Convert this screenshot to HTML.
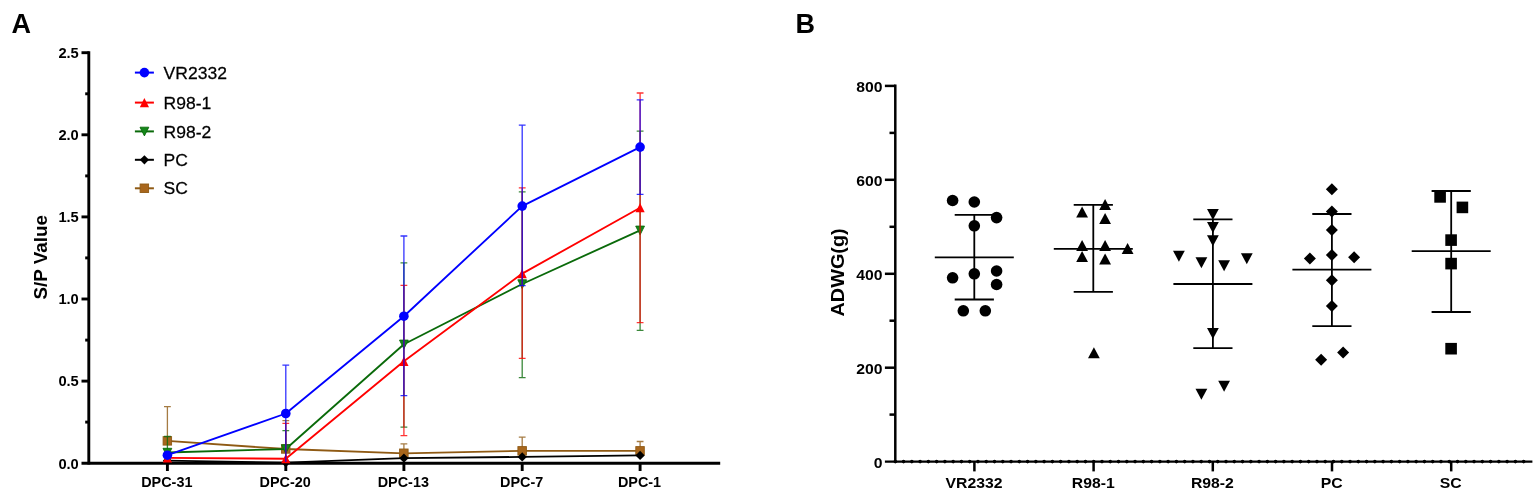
<!DOCTYPE html>
<html lang="en"><head><meta charset="utf-8"><title>Figure</title>
<style>html,body{margin:0;padding:0;background:#fff;}svg{display:block;}text{font-family:"Liberation Sans", sans-serif;fill:#000;}</style>
</head><body>
<svg width="1535" height="491" viewBox="0 0 1535 491">
<rect width="1535" height="491" fill="#fff"/>
<g id="panelA">
<text x="11.4" y="33" font-size="27" font-weight="bold">A</text>
<g stroke="#000" stroke-width="2.9" fill="none" stroke-linecap="butt">
<path d="M88.8 51.2 V464.6"/>
<path d="M81.5 463.2 H720.2" stroke-width="2.9"/>
<path d="M81.5 381.1 H88.8"/>
<path d="M81.5 299.0 H88.8"/>
<path d="M81.5 216.9 H88.8"/>
<path d="M81.5 134.8 H88.8"/>
<path d="M81.5 52.7 H88.8"/>
<path d="M85.2 422.1 H88.8"/>
<path d="M85.2 340.1 H88.8"/>
<path d="M85.2 257.9 H88.8"/>
<path d="M85.2 175.9 H88.8"/>
<path d="M85.2 93.8 H88.8"/>
<path d="M167.4 463.2 V471"/>
<path d="M285.8 463.2 V471"/>
<path d="M403.9 463.2 V471"/>
<path d="M522.2 463.2 V471"/>
<path d="M640.1 463.2 V471"/>
</g>
<text x="78.8" y="468.5" font-size="14.7" font-weight="bold" text-anchor="end">0.0</text>
<text x="78.8" y="386.4" font-size="14.7" font-weight="bold" text-anchor="end">0.5</text>
<text x="78.8" y="304.3" font-size="14.7" font-weight="bold" text-anchor="end">1.0</text>
<text x="78.8" y="222.2" font-size="14.7" font-weight="bold" text-anchor="end">1.5</text>
<text x="78.8" y="140.1" font-size="14.7" font-weight="bold" text-anchor="end">2.0</text>
<text x="78.8" y="58.0" font-size="14.7" font-weight="bold" text-anchor="end">2.5</text>
<text x="166.8" y="486.9" font-size="14.4" font-weight="bold" text-anchor="middle">DPC-31</text>
<text x="285.2" y="486.9" font-size="14.4" font-weight="bold" text-anchor="middle">DPC-20</text>
<text x="403.3" y="486.9" font-size="14.4" font-weight="bold" text-anchor="middle">DPC-13</text>
<text x="521.6" y="486.9" font-size="14.4" font-weight="bold" text-anchor="middle">DPC-7</text>
<text x="639.5" y="486.9" font-size="14.4" font-weight="bold" text-anchor="middle">DPC-1</text>
<text transform="translate(47 257.3) rotate(-90)" font-size="18.7" font-weight="bold" text-anchor="middle" textLength="84.5" lengthAdjust="spacingAndGlyphs">S/P Value</text>
<g id="s-SC">
<path d="M167.4 440.9 V406.6 M164.0 406.6 H170.8 M285.8 449.0 V420.6 M282.4 420.6 H289.2 M403.9 453.3 V443.9 M400.5 443.9 H407.3 M522.2 450.9 V437.2 M518.8 437.2 H525.6 M640.1 450.9 V441.5 M636.7 441.5 H643.5" stroke="#8f5a14" stroke-width="1.3" fill="none" opacity="0.8"/>
<polyline points="167.4,440.9 285.8,449.0 403.9,453.3 522.2,450.9 640.1,450.9" stroke="#8f5a14" stroke-width="1.85" fill="none" stroke-linejoin="round"/>
<rect x="163.1" y="436.6" width="8.5" height="8.5" fill="#a8661c" stroke="#8f5a14" stroke-width="0.9"/>
<rect x="281.5" y="444.7" width="8.5" height="8.5" fill="#a8661c" stroke="#8f5a14" stroke-width="0.9"/>
<rect x="399.6" y="449.0" width="8.5" height="8.5" fill="#a8661c" stroke="#8f5a14" stroke-width="0.9"/>
<rect x="517.9" y="446.6" width="8.5" height="8.5" fill="#a8661c" stroke="#8f5a14" stroke-width="0.9"/>
<rect x="635.8" y="446.6" width="8.5" height="8.5" fill="#a8661c" stroke="#8f5a14" stroke-width="0.9"/>
</g>
<g id="s-PC">
<polyline points="167.4,460.7 285.8,462.6 403.9,458.2 522.2,456.9 640.1,455.4" stroke="#000" stroke-width="1.85" fill="none" stroke-linejoin="round"/>
<path d="M167.4 456.1 L172.0 460.7 L167.4 465.3 L162.8 460.7 Z" fill="#000"/>
<path d="M285.8 458.0 L290.4 462.6 L285.8 467.2 L281.2 462.6 Z" fill="#000"/>
<path d="M403.9 453.6 L408.5 458.2 L403.9 462.8 L399.3 458.2 Z" fill="#000"/>
<path d="M522.2 452.3 L526.8 456.9 L522.2 461.5 L517.6 456.9 Z" fill="#000"/>
<path d="M640.1 450.8 L644.7 455.4 L640.1 460.0 L635.5 455.4 Z" fill="#000"/>
</g>
<g id="s-R98-2">
<path d="M167.4 452.5 V436.5 M164.0 436.5 H170.8 M285.8 449.0 V430.7 M282.4 430.7 H289.2 M285.8 449.0 V462.0 M403.9 344.3 V262.9 M400.5 262.9 H407.3 M403.9 344.3 V427.1 M400.5 427.1 H407.3 M522.2 284.0 V191.8 M518.8 191.8 H525.6 M522.2 284.0 V377.7 M518.8 377.7 H525.6 M640.1 230.3 V131.2 M636.7 131.2 H643.5 M640.1 230.3 V330.3 M636.7 330.3 H643.5" stroke="#0a6a0a" stroke-width="1.3" fill="none" opacity="0.8"/>
<polyline points="167.4,452.5 285.8,449.0 403.9,344.3 522.2,284.0 640.1,230.3" stroke="#0a6a0a" stroke-width="1.85" fill="none" stroke-linejoin="round"/>
<path d="M167.4 457.0 L171.8 448.3 L163.0 448.3 Z" fill="#14871a" stroke="#0a6a0a" stroke-width="0.9"/>
<path d="M285.8 453.5 L290.2 444.8 L281.4 444.8 Z" fill="#14871a" stroke="#0a6a0a" stroke-width="0.9"/>
<path d="M403.9 348.8 L408.3 340.1 L399.5 340.1 Z" fill="#14871a" stroke="#0a6a0a" stroke-width="0.9"/>
<path d="M522.2 288.5 L526.6 279.8 L517.8 279.8 Z" fill="#14871a" stroke="#0a6a0a" stroke-width="0.9"/>
<path d="M640.1 234.8 L644.5 226.1 L635.7 226.1 Z" fill="#14871a" stroke="#0a6a0a" stroke-width="0.9"/>
</g>
<g id="s-R98-1">
<path d="M285.8 458.7 V423.3 M282.4 423.3 H289.2 M285.8 458.7 V462.0 M403.9 361.3 V285.4 M400.5 285.4 H407.3 M403.9 361.3 V435.7 M400.5 435.7 H407.3 M522.2 273.6 V187.8 M518.8 187.8 H525.6 M522.2 273.6 V358.3 M518.8 358.3 H525.6 M640.1 207.7 V93.0 M636.7 93.0 H643.5 M640.1 207.7 V322.6 M636.7 322.6 H643.5" stroke="#ff0000" stroke-width="1.3" fill="none" opacity="0.8"/>
<polyline points="167.4,457.9 285.8,458.7 403.9,361.3 522.2,273.6 640.1,207.7" stroke="#ff0000" stroke-width="1.85" fill="none" stroke-linejoin="round"/>
<path d="M167.4 453.2 L172.0 462.5 L162.8 462.5 Z" fill="#ff0000"/>
<path d="M285.8 454.0 L290.4 463.3 L281.2 463.3 Z" fill="#ff0000"/>
<path d="M403.9 356.6 L408.5 365.9 L399.3 365.9 Z" fill="#ff0000"/>
<path d="M522.2 268.9 L526.8 278.2 L517.6 278.2 Z" fill="#ff0000"/>
<path d="M640.1 203.0 L644.7 212.3 L635.5 212.3 Z" fill="#ff0000"/>
</g>
<g id="s-VR2332">
<path d="M285.8 413.5 V365.2 M282.4 365.2 H289.2 M285.8 413.5 V462.0 M403.9 316.2 V236.0 M400.5 236.0 H407.3 M403.9 316.2 V395.7 M400.5 395.7 H407.3 M522.2 206.1 V125.1 M518.8 125.1 H525.6 M522.2 206.1 V285.6 M518.8 285.6 H525.6 M640.1 147.1 V99.9 M636.7 99.9 H643.5 M640.1 147.1 V194.4 M636.7 194.4 H643.5" stroke="#0000ff" stroke-width="1.3" fill="none" opacity="0.8"/>
<polyline points="167.4,455.2 285.8,413.5 403.9,316.2 522.2,206.1 640.1,147.1" stroke="#0000ff" stroke-width="1.85" fill="none" stroke-linejoin="round"/>
<circle cx="167.4" cy="455.2" r="4.80" fill="#0000ff"/>
<circle cx="285.8" cy="413.5" r="4.80" fill="#0000ff"/>
<circle cx="403.9" cy="316.2" r="4.80" fill="#0000ff"/>
<circle cx="522.2" cy="206.1" r="4.80" fill="#0000ff"/>
<circle cx="640.1" cy="147.1" r="4.80" fill="#0000ff"/>
</g>
<path d="M134.9 72.6 H153.9" stroke="#0000ff" stroke-width="2"/>
<circle cx="144.4" cy="72.6" r="4.80" fill="#0000ff"/>
<text transform="translate(163.6 78.7) scale(1.05 1)" font-size="16.7" stroke="#000" stroke-width="0.25">VR2332</text>
<path d="M134.9 102.6 H153.9" stroke="#ff0000" stroke-width="2"/>
<path d="M144.4 97.9 L149.0 107.2 L139.8 107.2 Z" fill="#ff0000"/>
<text transform="translate(163.6 108.7) scale(1.05 1)" font-size="16.7" stroke="#000" stroke-width="0.25">R98-1</text>
<path d="M134.9 131.4 H153.9" stroke="#0a6a0a" stroke-width="2"/>
<path d="M144.4 135.9 L148.8 127.2 L140.0 127.2 Z" fill="#14871a" stroke="#0a6a0a" stroke-width="0.9"/>
<text transform="translate(163.6 137.5) scale(1.05 1)" font-size="16.7" stroke="#000" stroke-width="0.25">R98-2</text>
<path d="M134.9 159.8 H153.9" stroke="#000" stroke-width="2"/>
<path d="M144.4 155.2 L149.0 159.8 L144.4 164.4 L139.8 159.8 Z" fill="#000"/>
<text transform="translate(163.6 165.9) scale(1.05 1)" font-size="16.7" stroke="#000" stroke-width="0.25">PC</text>
<path d="M134.9 188.3 H153.9" stroke="#8f5a14" stroke-width="2"/>
<rect x="140.1" y="184.0" width="8.5" height="8.5" fill="#a8661c" stroke="#8f5a14" stroke-width="0.9"/>
<text transform="translate(163.6 194.4) scale(1.05 1)" font-size="16.7" stroke="#000" stroke-width="0.25">SC</text>
</g>
<g id="panelB">
<text x="795.6" y="32.8" font-size="27" font-weight="bold">B</text>
<g stroke="#000" stroke-width="2.5" fill="none">
<path d="M895.3 84.6 V462.9"/>
<path d="M884.9 461.6 H1532.4" stroke-width="2.3"/>
<path d="M884.9 367.7 H895.3"/>
<path d="M884.9 273.8 H895.3"/>
<path d="M884.9 179.8 H895.3"/>
<path d="M884.9 85.9 H895.3"/>
<path d="M889.5 414.6 H895.3"/>
<path d="M889.5 320.7 H895.3"/>
<path d="M889.5 226.8 H895.3"/>
<path d="M889.5 132.9 H895.3"/>
<path d="M974.4 461.6 V471.4"/>
<path d="M1093.6 461.6 V471.4"/>
<path d="M1212.8 461.6 V471.4"/>
<path d="M1332.0 461.6 V471.4"/>
<path d="M1451.2 461.6 V471.4"/>
</g>
<path d="M895.3 461.6 H1526" stroke="#000" stroke-width="3.6" stroke-linecap="round" stroke-dasharray="0 8.268" fill="none"/>
<text transform="translate(882.4 467.6) scale(1.03 1)" font-size="15.3" font-weight="bold" text-anchor="end">0</text>
<text transform="translate(882.4 373.7) scale(1.03 1)" font-size="15.3" font-weight="bold" text-anchor="end">200</text>
<text transform="translate(882.4 279.8) scale(1.03 1)" font-size="15.3" font-weight="bold" text-anchor="end">400</text>
<text transform="translate(882.4 185.8) scale(1.03 1)" font-size="15.3" font-weight="bold" text-anchor="end">600</text>
<text transform="translate(882.4 91.9) scale(1.03 1)" font-size="15.3" font-weight="bold" text-anchor="end">800</text>
<text transform="translate(974.0 487.6) scale(1.03 1)" font-size="15.3" font-weight="bold" text-anchor="middle">VR2332</text>
<text transform="translate(1093.2 487.6) scale(1.03 1)" font-size="15.3" font-weight="bold" text-anchor="middle">R98-1</text>
<text transform="translate(1212.4 487.6) scale(1.03 1)" font-size="15.3" font-weight="bold" text-anchor="middle">R98-2</text>
<text transform="translate(1331.6 487.6) scale(1.03 1)" font-size="15.3" font-weight="bold" text-anchor="middle">PC</text>
<text transform="translate(1450.8 487.6) scale(1.03 1)" font-size="15.3" font-weight="bold" text-anchor="middle">SC</text>
<text transform="translate(844.2 272.4) rotate(-90) scale(1.045 1)" font-size="19" font-weight="bold" text-anchor="middle">ADWG(g)</text>
<g fill="#000">
<circle cx="952.6" cy="200.5" r="5.8"/>
<circle cx="974.3" cy="202.0" r="5.8"/>
<circle cx="996.6" cy="217.6" r="5.8"/>
<circle cx="974.3" cy="225.8" r="5.8"/>
<circle cx="996.6" cy="271.0" r="5.8"/>
<circle cx="974.3" cy="273.8" r="5.8"/>
<circle cx="952.6" cy="277.8" r="5.8"/>
<circle cx="996.6" cy="284.5" r="5.8"/>
<circle cx="963.3" cy="310.8" r="5.8"/>
<circle cx="985.3" cy="310.8" r="5.8"/>
<path d="M934.8 257.3 H1013.8 M954.7 214.8 H993.9 M954.7 299.5 H993.9 M974.3 214.8 V299.5" stroke="#000" stroke-width="1.8" fill="none"/>
</g>
<g fill="#000">
<path d="M1082.1 206.5 l5.9 11 h-11.8 Z"/>
<path d="M1105.1 198.9 l5.9 11 h-11.8 Z"/>
<path d="M1105.1 213.1 l5.9 11 h-11.8 Z"/>
<path d="M1082.1 240.0 l5.9 11 h-11.8 Z"/>
<path d="M1105.1 240.0 l5.9 11 h-11.8 Z"/>
<path d="M1127.6 242.9 l5.9 11 h-11.8 Z"/>
<path d="M1082.1 251.0 l5.9 11 h-11.8 Z"/>
<path d="M1105.1 253.4 l5.9 11 h-11.8 Z"/>
<path d="M1093.9 347.2 l5.9 11 h-11.8 Z"/>
<path d="M1053.8 248.8 H1132.8 M1073.7 204.8 H1112.9 M1073.7 291.8 H1112.9 M1093.3 204.8 V291.8" stroke="#000" stroke-width="1.8" fill="none"/>
</g>
<g fill="#000">
<path d="M1212.9 219.9 l5.9 -11 h-11.8 Z"/>
<path d="M1212.9 232.9 l5.9 -11 h-11.8 Z"/>
<path d="M1212.9 246.3 l5.9 -11 h-11.8 Z"/>
<path d="M1178.9 261.7 l5.9 -11 h-11.8 Z"/>
<path d="M1246.8 264.2 l5.9 -11 h-11.8 Z"/>
<path d="M1201.4 268.3 l5.9 -11 h-11.8 Z"/>
<path d="M1224.1 271.3 l5.9 -11 h-11.8 Z"/>
<path d="M1212.9 339.1 l5.9 -11 h-11.8 Z"/>
<path d="M1224.1 391.7 l5.9 -11 h-11.8 Z"/>
<path d="M1201.4 399.7 l5.9 -11 h-11.8 Z"/>
<path d="M1173.4 284.0 H1252.4 M1193.3 219.4 H1232.5 M1193.3 348.1 H1232.5 M1212.9 219.4 V348.1" stroke="#000" stroke-width="1.8" fill="none"/>
</g>
<g fill="#000">
<path d="M1331.9 183.3 l6 6 l-6 6 l-6 -6 Z"/>
<path d="M1331.9 205.5 l6 6 l-6 6 l-6 -6 Z"/>
<path d="M1331.9 223.9 l6 6 l-6 6 l-6 -6 Z"/>
<path d="M1331.9 249.0 l6 6 l-6 6 l-6 -6 Z"/>
<path d="M1309.9 252.5 l6 6 l-6 6 l-6 -6 Z"/>
<path d="M1354.1 251.3 l6 6 l-6 6 l-6 -6 Z"/>
<path d="M1331.9 274.3 l6 6 l-6 6 l-6 -6 Z"/>
<path d="M1331.9 299.9 l6 6 l-6 6 l-6 -6 Z"/>
<path d="M1343.1 346.6 l6 6 l-6 6 l-6 -6 Z"/>
<path d="M1321.1 353.7 l6 6 l-6 6 l-6 -6 Z"/>
<path d="M1292.4 269.7 H1371.4 M1312.3 214.0 H1351.5 M1312.3 326.2 H1351.5 M1331.9 214.0 V326.2" stroke="#000" stroke-width="1.8" fill="none"/>
</g>
<g fill="#000">
<rect x="1434.3" y="191.1" width="11.6" height="11.6"/>
<rect x="1456.6" y="201.6" width="11.6" height="11.6"/>
<rect x="1445.3" y="234.3" width="11.6" height="11.6"/>
<rect x="1445.3" y="257.8" width="11.6" height="11.6"/>
<rect x="1445.3" y="342.9" width="11.6" height="11.6"/>
<path d="M1411.7 251.1 H1490.7 M1431.6 191.0 H1470.8 M1431.6 312.0 H1470.8 M1451.2 191.0 V312.0" stroke="#000" stroke-width="1.8" fill="none"/>
</g>
</g>
</svg>
</body></html>
